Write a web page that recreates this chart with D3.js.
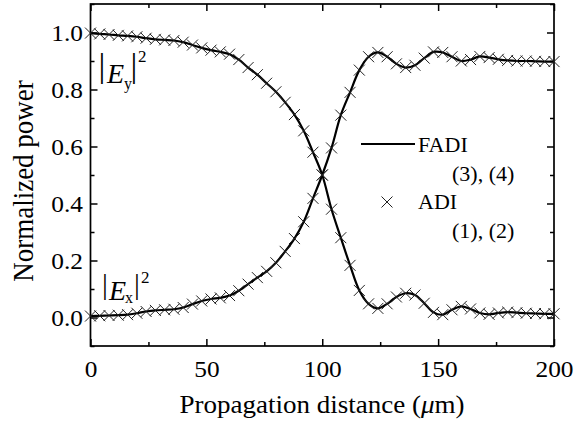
<!DOCTYPE html>
<html>
<head>
<meta charset="utf-8">
<script src="https://cdn.jsdelivr.net/npm/d3@7/dist/d3.min.js"></script>
<style>
  html, body { margin: 0; padding: 0; background: #fff; }
  svg { display: block; }
  svg text { font-family: "Liberation Serif", "Times New Roman", serif; fill: #000; }
</style>
</head>
<body>
<svg id="chart" width="587" height="423"></svg>
<script>
// ---- data ----
const distance = [0,4,8,12,16,20,24,28,32,36,40,44,48,52,56,60,64,68,72,76,80,84,88,92,96,100,
  104,108,112,116,120,124,128,132,136,140,144,148,152,156,160,164,168,172,176,180,184,188,192,196,200];
const powerEy = [0.998,0.995,0.993,0.990,0.988,0.985,0.980,0.976,0.974,0.972,0.966,0.956,0.946,0.938,0.932,0.924,
  0.905,0.877,0.852,0.822,0.792,0.755,0.712,0.655,0.580,0.500,0.380,0.280,0.183,0.095,0.048,0.032,0.048,0.072,
  0.085,0.079,0.050,0.018,0.010,0.027,0.039,0.030,0.016,0.011,0.016,0.019,0.017,0.015,0.014,0.013,0.013];
const powerEx = [0.005,0.006,0.007,0.008,0.010,0.015,0.021,0.025,0.027,0.029,0.035,0.047,0.058,0.065,0.069,0.077,
  0.094,0.117,0.140,0.162,0.192,0.232,0.277,0.336,0.418,0.500,0.595,0.710,0.790,0.868,0.915,0.930,0.915,0.890,
  0.877,0.885,0.910,0.932,0.930,0.915,0.900,0.905,0.916,0.912,0.906,0.902,0.900,0.900,0.899,0.898,0.898];
const xMajorTicks = [0,50,100,150,200];
const xMinorTicks = [25,75,125,175];
const yMajorTicks = [0.0,0.2,0.4,0.6,0.8,1.0];
const yMinorTicks = [-0.1,0.1,0.3,0.5,0.7,0.9,1.1];
const legendLabels = ["FADI","(3), (4)","ADI","(1), (2)"];

// ---- layout ----
const FONT = '"Liberation Serif", "Times New Roman", serif';
const svg = d3.select("#chart").attr("font-family", FONT);
const L = 90.5, R = 554, T = 4, B = 346;
const x = d3.scaleLinear().domain([0,200]).range([L,R]);
const y = d3.scaleLinear().domain([-0.1,1.1]).range([B,T]);

function styleAxis(g){
  g.attr("font-family", FONT);
  g.select(".domain").remove();
  g.selectAll("line").attr("stroke","#000").attr("stroke-width",1.5);
}
const fmt = d3.format(".1f");
const gB = svg.append("g").attr("transform",`translate(0,${B})`)
  .call(d3.axisBottom(x).tickValues(xMajorTicks).tickSize(-7).tickPadding(14).tickFormat(d3.format("d")));
gB.call(styleAxis).attr("font-size",23.5);
gB.selectAll("text").attr("transform","scale(1.08,1)");
svg.append("g").attr("transform",`translate(0,${B})`)
  .call(d3.axisBottom(x).tickValues(xMinorTicks).tickSize(-4).tickFormat("")).call(styleAxis);
svg.append("g").attr("transform",`translate(0,${T})`)
  .call(d3.axisTop(x).tickValues(xMajorTicks).tickSize(-7).tickFormat("")).call(styleAxis);
svg.append("g").attr("transform",`translate(0,${T})`)
  .call(d3.axisTop(x).tickValues(xMinorTicks).tickSize(-4).tickFormat("")).call(styleAxis);

const gL = svg.append("g").attr("transform",`translate(${L},0)`)
  .call(d3.axisLeft(y).tickValues(yMajorTicks).tickSize(-7).tickPadding(7).tickFormat(fmt));
gL.call(styleAxis).attr("font-size",23.5);
gL.selectAll("text").attr("transform","scale(1.08,1)");
svg.append("g").attr("transform",`translate(${L},0)`)
  .call(d3.axisLeft(y).tickValues(yMinorTicks).tickSize(-4).tickFormat("")).call(styleAxis);
svg.append("g").attr("transform",`translate(${R},0)`)
  .call(d3.axisRight(y).tickValues(yMajorTicks).tickSize(-7).tickFormat("")).call(styleAxis);
svg.append("g").attr("transform",`translate(${R},0)`)
  .call(d3.axisRight(y).tickValues(yMinorTicks).tickSize(-4).tickFormat("")).call(styleAxis);

// frame
svg.append("rect").attr("x",L).attr("y",T).attr("width",R-L).attr("height",B-T)
  .attr("fill","none").attr("stroke","#000").attr("stroke-width",1.7);

// lines (FADI)
const line = d3.line().x((d,i)=>x(distance[i])).y(d=>y(d)).curve(d3.curveCatmullRom.alpha(0.5));
[powerEy, powerEx].forEach(s=>{
  svg.append("path").datum(s).attr("d",line).attr("fill","none").attr("stroke","#000").attr("stroke-width",2.2);
});

// markers (ADI)
const X_PATH = "M-5.5,-5.5L5.5,5.5M-5.5,5.5L5.5,-5.5";
const mg = svg.append("g");
[powerEy, powerEx].forEach(s=>{
  mg.selectAll(null).data(s).join("path").attr("d",X_PATH)
    .attr("transform",(v,i)=>`translate(${x(distance[i])},${y(v)})`)
    .attr("fill","none").attr("stroke","#222").attr("stroke-width",1);
});

// axis titles
const xt = svg.append("text").attr("transform","translate(322,413) scale(1.06,1)")
  .attr("text-anchor","middle").attr("font-size",25.5);
xt.append("tspan").text("Propagation distance (");
xt.append("tspan").attr("font-style","italic").text("\u03bc");
xt.append("tspan").text("m)");
svg.append("text").attr("transform","translate(33,181) scale(1.1,1) rotate(-90)")
  .attr("text-anchor","middle").attr("font-size",27).text("Normalized power");

// legend
svg.append("line").attr("x1",361).attr("x2",415).attr("y1",144).attr("y2",144)
  .attr("stroke","#000").attr("stroke-width",2.2);
svg.append("text").attr("x",418).attr("y",152).attr("font-size",22).text(legendLabels[0]);
svg.append("text").attr("x",452).attr("y",181).attr("font-size",22).text(legendLabels[1]);
svg.append("path").attr("d",X_PATH)
  .attr("transform","translate(387,202)").attr("fill","none").attr("stroke","#222").attr("stroke-width",1);
svg.append("text").attr("x",418).attr("y",209).attr("font-size",22).text(legendLabels[2]);
svg.append("text").attr("x",452).attr("y",238).attr("font-size",22).text(legendLabels[3]);

// |E|^2 labels
function fieldLabel(o){
  svg.append("text").attr("x",o.b1).attr("y",o.barBase).attr("text-anchor","middle").attr("font-size",o.barSize).text("|");
  svg.append("text").attr("x",o.ex).attr("y",o.base).attr("font-size",28).attr("font-style","italic").text("E");
  svg.append("text").attr("x",o.sx).attr("y",o.sbase).attr("font-size",16).text(o.sub);
  svg.append("text").attr("x",o.b2).attr("y",o.barBase).attr("text-anchor","middle").attr("font-size",o.barSize).text("|");
  svg.append("text").attr("x",o.px).attr("y",o.pbase).attr("font-size",17).text("2");
}
fieldLabel({b1:102, b2:134, barBase:77, barSize:34, ex:107, base:83, sx:124, sbase:89, sub:"y", px:138, pbase:62});
fieldLabel({b1:105, b2:137, barBase:294, barSize:29, ex:109, base:300, sx:125, sbase:303, sub:"x", px:141, pbase:283});
</script>
</body>
</html>
